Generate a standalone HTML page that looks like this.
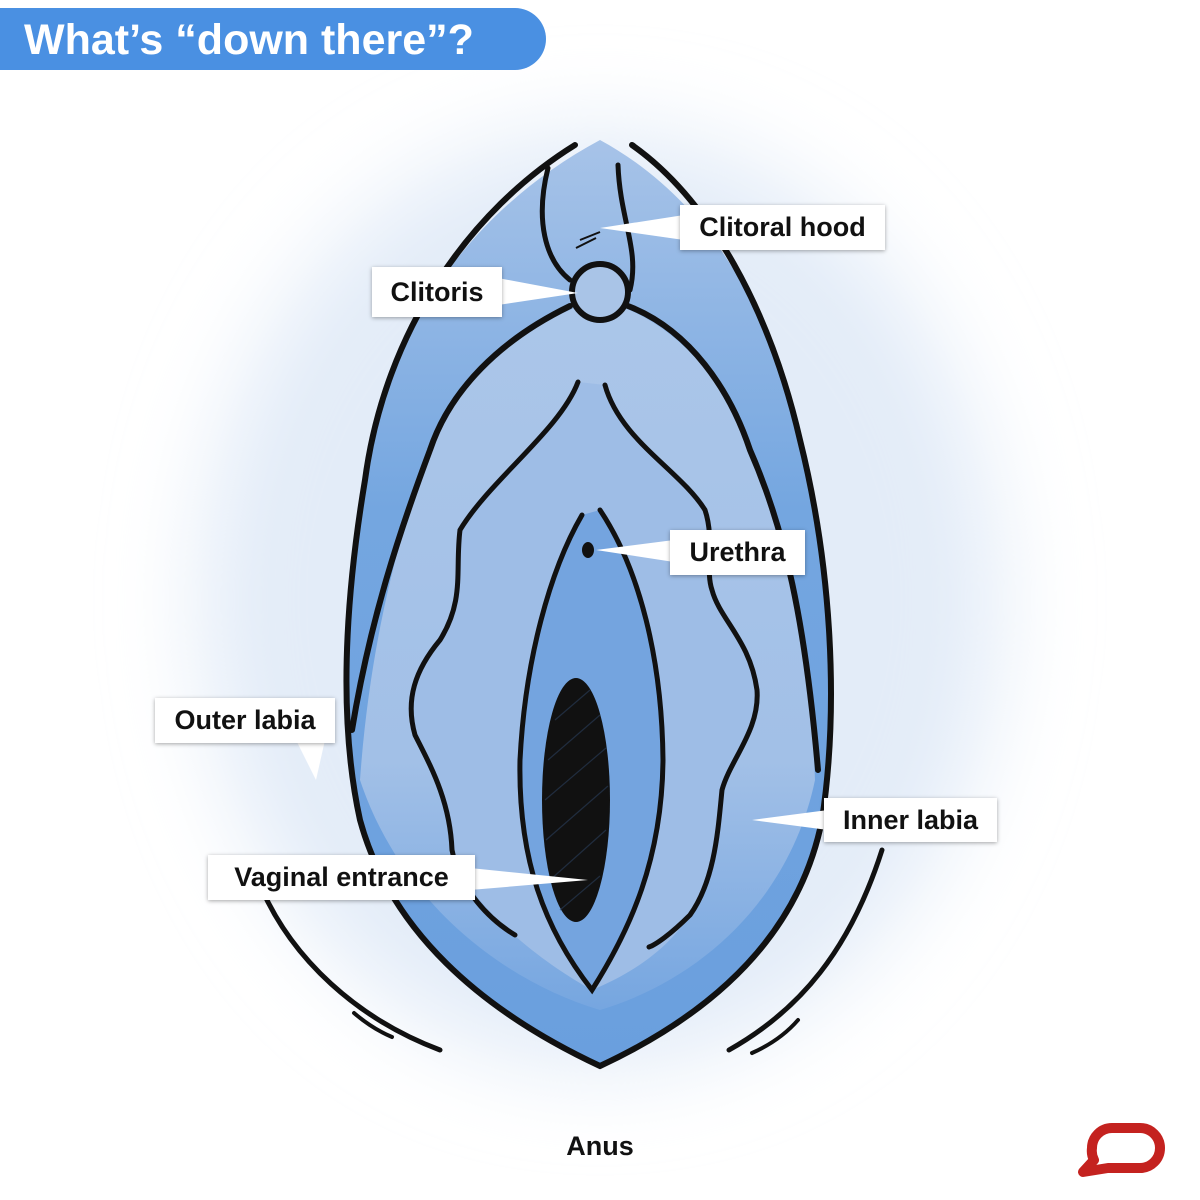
<!DOCTYPE html>
<html><head><meta charset="utf-8"><style>
html,body{margin:0;padding:0;background:#fff;}
body{width:1200px;height:1200px;overflow:hidden;position:relative;font-family:"Liberation Sans",Arial,sans-serif;}
.lbl{position:absolute;background:#fff;box-shadow:0 1px 4px rgba(0,0,0,.35);font-weight:bold;font-size:27px;color:#111;display:flex;align-items:center;justify-content:center;}
</style></head><body>
<svg width="1200" height="1200" viewBox="0 0 1200 1200" style="position:absolute;left:0;top:0">
<defs>
<filter id="blur" x="-30%" y="-30%" width="160%" height="160%"><feGaussianBlur stdDeviation="45"/></filter>
<linearGradient id="lg" x1="0" y1="0" x2="0" y2="1">
<stop offset="0" stop-color="#abc6e9"/><stop offset="0.65" stop-color="#a2c0e7"/><stop offset="1" stop-color="#76a6e0"/>
</linearGradient>
<linearGradient id="og" x1="0" y1="0" x2="0" y2="1">
<stop offset="0" stop-color="#a7c3e8"/><stop offset="0.4" stop-color="#74a6e0"/><stop offset="1" stop-color="#6a9fde"/>
</linearGradient>
</defs>
<ellipse cx="600" cy="600" rx="400" ry="470" fill="#e3ecf8" filter="url(#blur)"/>
<path d="M600,140 C470,210 385,330 365,480 C345,600 338,720 360,820 C390,930 480,1010 600,1066 C720,1010 800,930 822,820 C840,700 830,560 800,440 C770,310 710,200 600,140Z" fill="url(#og)"/>
<path d="M600,300 C520,320 450,390 430,450 C400,530 370,640 360,780 C400,900 500,980 600,1010 C700,980 790,900 815,780 C810,640 785,530 750,450 C730,390 680,320 600,300Z" fill="url(#lg)"/>
<path d="M578,382 C560,430 490,480 460,530 C455,570 465,600 440,640 C415,670 405,700 415,735 C430,765 450,800 452,850 C460,890 520,950 592,990 C640,970 670,945 690,915 C715,880 718,830 722,790 C730,760 760,730 757,690 C750,640 720,620 712,590 C705,570 715,540 705,510 C680,470 620,440 605,385Z" fill="#9ebde6"/>
<path d="M582,515 C550,570 525,660 520,760 C518,860 545,930 592,990 C630,930 662,860 663,760 C662,660 640,570 600,510Z" fill="#74a4df"/>
<g fill="none" stroke="#111" stroke-width="6" stroke-linecap="round">
<path d="M575,145 C470,210 385,330 365,480 C345,600 338,720 360,820 C390,930 480,1010 600,1066 C720,1010 800,930 822,820 C840,700 830,560 800,440 C770,310 710,200 632,145"/>
<path d="M570,306 C500,340 450,390 430,450 C400,530 370,620 352,730"/>
<path d="M628,306 C690,330 730,390 750,450 C785,530 805,620 818,770"/>
<path d="M578,382 C560,430 490,480 460,530 C455,570 465,600 440,640 C415,670 405,700 415,735 C430,765 450,800 452,850 C460,890 490,920 515,935" stroke-width="5"/>
<path d="M605,385 C620,440 680,470 705,510 C715,540 705,570 712,590 C720,620 750,640 757,690 C760,730 730,760 722,790 C718,830 715,880 690,915 C670,935 655,945 649,947" stroke-width="5"/>
<path d="M582,515 C550,570 525,660 520,760 C518,860 545,930 592,990 C630,930 662,860 663,760 C662,660 640,570 600,510" stroke-width="5"/>
<path d="M548,168 C535,220 545,260 570,280" stroke-width="5"/>
<path d="M618,165 C620,220 640,250 630,290" stroke-width="5"/>
<path d="M258,880 C290,960 360,1020 440,1050" stroke-width="5"/>
<path d="M354,1013 C368,1025 380,1032 392,1037" stroke-width="4"/>
<path d="M882,850 C850,950 800,1010 729,1050" stroke-width="5"/>
<path d="M798,1020 C785,1035 770,1045 752,1053" stroke-width="4"/>
</g>
<circle cx="600" cy="292" r="28" fill="#a9c4e7" stroke="#111" stroke-width="6"/>
<path d="M580,240 L600,232 M576,248 L596,238" stroke="#111" stroke-width="2"/>
<ellipse cx="576" cy="800" rx="34" ry="122" fill="#111"/>
<g stroke="#2a3f5c" stroke-width="1.2" opacity="0.6">
<path d="M555,720 L590,690 M548,760 L600,715 M545,800 L606,748 M546,840 L608,786 M550,880 L606,830 M560,910 L600,876"/>
</g>
<ellipse cx="588" cy="550" rx="6" ry="8" fill="#111"/>
<g fill="#fff">
<polygon points="684,215 684,240 600,228"/>
<polygon points="498,278 498,305 578,293"/>
<polygon points="674,540 674,562 596,550"/>
<polygon points="296,740 325,740 316,780"/>
<polygon points="828,810 828,830 752,820"/>
<polygon points="470,868 470,890 588,880"/>
</g>
<path d="M0,8 H515 A31,31 0 0 1 515,70 H0Z" fill="#4a90e2"/>
<text x="24" y="54" fill="#fff" font-family="Liberation Sans, Arial, sans-serif" font-weight="bold" font-size="43">What’s “down there”?</text>
<text x="600" y="1155" text-anchor="middle" font-family="Liberation Sans, Arial, sans-serif" font-weight="bold" font-size="27" fill="#111">Anus</text>
<path d="M1112,1128 H1140 A20,20 0 0 1 1160,1148 V1148 A20,20 0 0 1 1140,1168 H1108 L1083,1172 L1094,1160 A20,20 0 0 1 1092,1148 A20,20 0 0 1 1112,1128Z" fill="none" stroke="#c4221f" stroke-width="10" stroke-linejoin="round"/>
</svg>
<div class="lbl" style="left:680px;top:205px;width:205px;height:45px">Clitoral hood</div>
<div class="lbl" style="left:372px;top:267px;width:130px;height:50px">Clitoris</div>
<div class="lbl" style="left:670px;top:530px;width:135px;height:45px">Urethra</div>
<div class="lbl" style="left:155px;top:698px;width:180px;height:45px">Outer labia</div>
<div class="lbl" style="left:824px;top:798px;width:173px;height:44px">Inner labia</div>
<div class="lbl" style="left:208px;top:855px;width:267px;height:45px">Vaginal entrance</div>
</body></html>
